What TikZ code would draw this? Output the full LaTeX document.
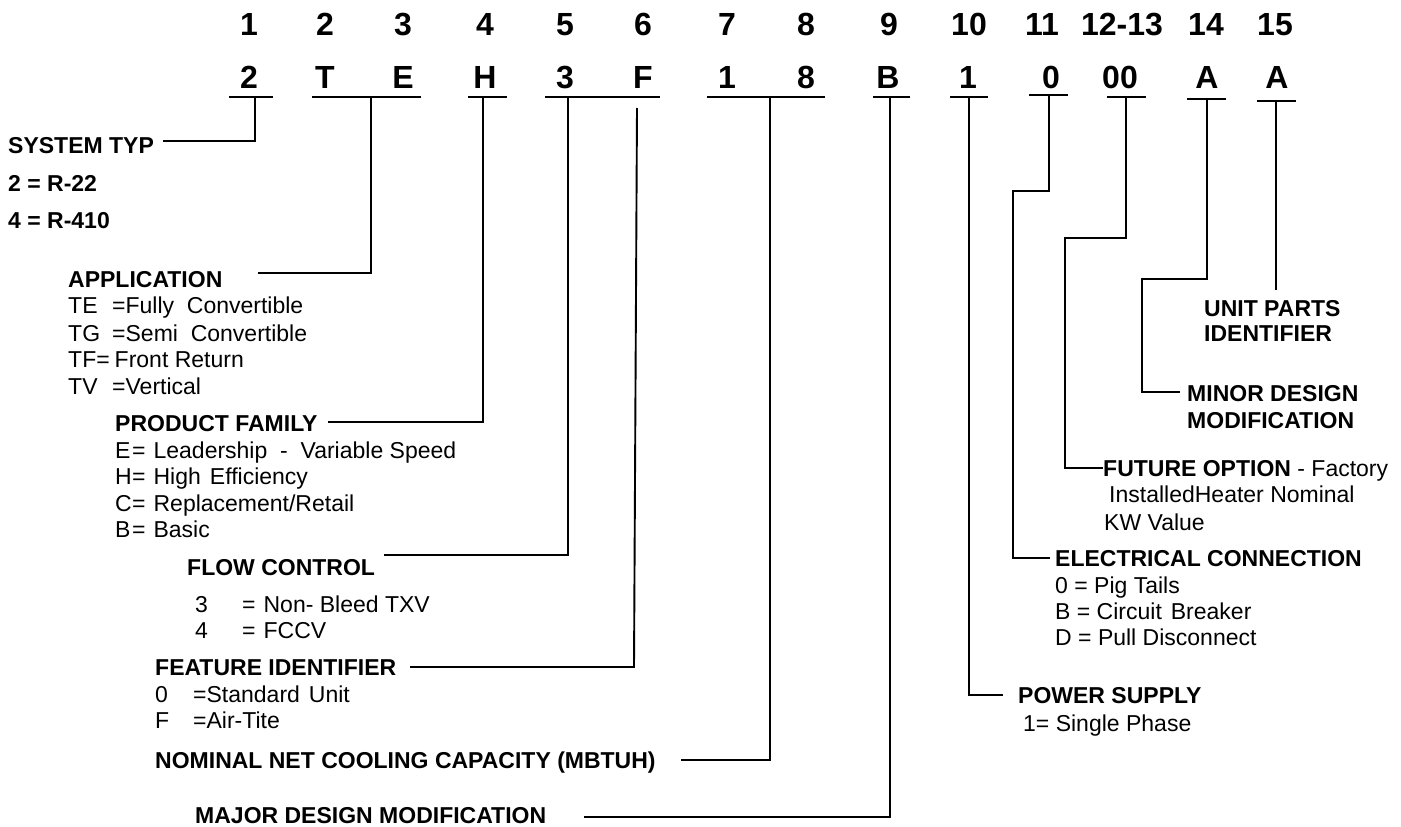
\documentclass[tikz,border=0pt]{standalone}
\usepackage{fontspec}
\setmainfont{Liberation Sans}
\begin{document}
\begin{tikzpicture}[x=1pt,y=-1pt,
  hd/.style={anchor=base west,inner sep=0pt,font=\fontsize{23}{26}\selectfont\bfseries},
  bd/.style={anchor=base west,inner sep=0pt,font=\fontsize{23}{26}\selectfont},
  num/.style={anchor=base,inner sep=0pt,font=\fontsize{32}{36}\selectfont\bfseries},
  ln/.style={line width=1.9pt,line cap=butt,line join=miter}]
\useasboundingbox (0,0) rectangle (1401,827);

% position numbers
\foreach \t/\x [count=\i] in {1/249,2/325,3/403,4/485,5/565,6/643,7/727,8/806,9/889,10/969,11/1042,12-13/1122,14/1206,15/1275}
  \node[num] (n\i) at (\x,35) {\t};
% model code characters
\foreach \t/\x [count=\i] in {2/249,T/325,E/403,H/485,3/565,F/643,1/727,8/806,B/888,1/968,0/1051,00/1120,A/1207,A/1277}
  \node[num] (c\i) at (\x,88) {\t};
% underlines
\foreach \a/\b/\y in {229/273/97,312/421/97,468/507/97,545/660/97,707/825/97,873/910/97,950/988/97,1029/1068/95,1107/1146/97,1187/1226/99,1257/1296/101}
  \draw[ln] (\a,\y) -- (\b,\y);

% ---------- left labels ----------
\node[hd] (sys) at (8,153) {SYSTEM TYP};
\node[hd] (sys1) at (8,191) {2 = R-22};
\node[hd] (sys2) at (8,228) {4 = R-410};

\node[hd] (app) at (68,287) {APPLICATION};
\node[bd] (app1) at (68,313) {\makebox[44pt][l]{TE}=Fully\ \ Convertible};
\node[bd] (app2) at (68,341) {\makebox[44pt][l]{TG}=Semi\ \ Convertible};
\node[bd] (app3) at (68,367) {TF=\hspace{5pt}Front Return};
\node[bd] (app4) at (68,394) {\makebox[44pt][l]{TV}=Vertical};

\node[hd] (pf) at (115,431) {PRODUCT FAMILY};
\node[bd] (pf1) at (115,458) {\makebox[17pt][l]{E}=\hspace{8pt}Leadership\ \ -\ \ Variable\ Speed};
\node[bd] (pf2) at (115,484) {\makebox[17pt][l]{H}=\hspace{8pt}High\hspace{9pt}Efficiency};
\node[bd] (pf3) at (115,511) {\makebox[17pt][l]{C}=\hspace{8pt}Replacement/Retail};
\node[bd] (pf4) at (115,537) {\makebox[17pt][l]{B}=\hspace{8pt}Basic};

\node[hd] (fc) at (187,575) {FLOW CONTROL};
\node[bd] (fc1) at (195,612) {\makebox[47pt][l]{3}=\hspace{8pt}Non- Bleed TXV};
\node[bd] (fc2) at (195,638) {\makebox[47pt][l]{4}=\hspace{8pt}FCCV};

\node[hd] (fi) at (155,675) {FEATURE IDENTIFIER};
\node[bd] (fi1) at (155,702) {\makebox[38pt][l]{0}=Standard\hspace{9pt}Unit};
\node[bd] (fi2) at (155,728) {\makebox[38pt][l]{F}=Air-Tite};

\node[hd] (nc) at (155,768) {NOMINAL NET COOLING CAPACITY (MBTUH)};
\node[hd] (mdm) at (195,823) {MAJOR DESIGN MODIFICATION};

% ---------- right labels ----------
\node[hd] (up1) at (1204,316) {UNIT PARTS};
\node[hd] (up2) at (1204,341) {IDENTIFIER};
\node[hd] (mn1) at (1187,401) {MINOR DESIGN};
\node[hd] (mn2) at (1187,428) {MODIFICATION};
\node[bd] (fo1) at (1103,476) {\textbf{FUTURE OPTION} - Factory};
\node[bd] (fo2) at (1109,502) {InstalledHeater Nominal};
\node[bd] (fo3) at (1104,530) {KW Value};
\node[hd] (el) at (1055,566) {ELECTRICAL CONNECTION};
\node[bd] (el1) at (1055,593) {0 = Pig Tails};
\node[bd] (el2) at (1055,619) {B = Circuit\hspace{9pt}Breaker};
\node[bd] (el3) at (1055,645) {D = Pull Disconnect};
\node[hd] (ps) at (1018,703) {POWER SUPPLY};
\node[bd] (ps1) at (1023,731) {1= Single Phase};

% ---------- connectors ----------
\coordinate (s1) at (255,97);   \coordinate (e1) at (163,141);
\coordinate (s2) at (371,97);   \coordinate (e2) at (258,273);
\coordinate (s3) at (483,97);   \coordinate (e3) at (328,422);
\coordinate (s4) at (568,97);   \coordinate (e4) at (384,555);
\coordinate (s5) at (637,108);  \coordinate (m5) at (634,667); \coordinate (e5) at (410,667);
\coordinate (s6) at (770,97);   \coordinate (e6) at (681,760);
\coordinate (s7) at (890,97);   \coordinate (e7) at (584,817);
\coordinate (s8) at (969,97);   \coordinate (e8) at (1003,695);
\coordinate (s9) at (1049,95);  \coordinate (k9) at (1013,191);  \coordinate (e9) at (1050,558);
\coordinate (s10) at (1126,97); \coordinate (k10) at (1065,238); \coordinate (e10) at (1103,468);
\coordinate (s11) at (1207,99); \coordinate (k11) at (1142,279); \coordinate (e11) at (1180,392);
\coordinate (s12) at (1276,101);\coordinate (e12) at (1276,290);

\draw[ln] (s1) |- (e1);
\draw[ln] (s2) |- (e2);
\draw[ln] (s3) |- (e3);
\draw[ln] (s4) |- (e4);
\draw[ln] (s5) -- (m5) -- (e5);
\draw[ln] (s6) |- (e6);
\draw[ln] (s7) |- (e7);
\draw[ln] (s8) |- (e8);
\draw[ln] (s9) |- (k9) |- (e9);
\draw[ln] (s10) |- (k10) |- (e10);
\draw[ln] (s11) |- (k11) |- (e11);
\draw[ln] (s12) -- (e12);
\end{tikzpicture}
\end{document}
